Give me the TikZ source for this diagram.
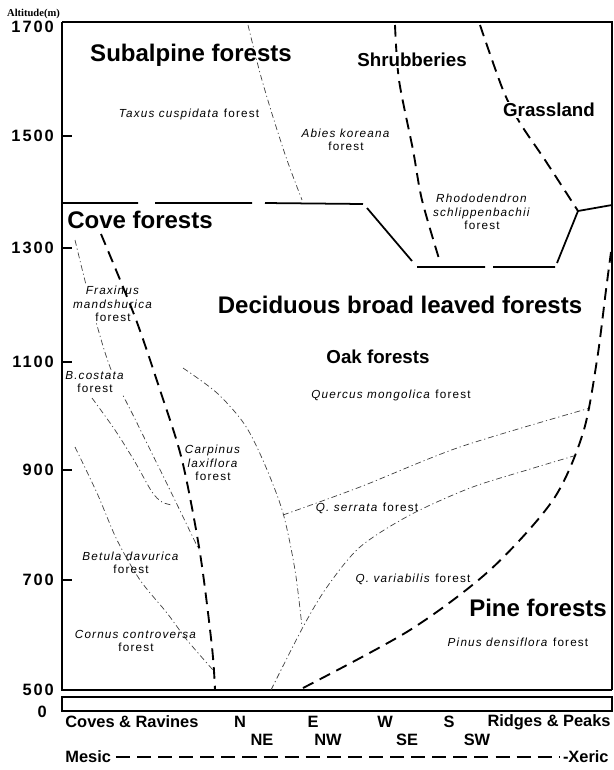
\documentclass[tikz,border=0pt]{standalone}
\usepackage{fontspec}
\setmainfont{Liberation Sans}
\newfontfamily\labfont[LetterSpace=10]{Liberation Sans}
\newfontfamily\tickfont[LetterSpace=12]{Liberation Sans}
\newfontfamily\altfont{Liberation Serif}
\usepackage{tikz}
\usetikzlibrary{arrows,shapes,positioning,calc}

\begin{document}
\begin{tikzpicture}[x=0.03cm,y=-0.03cm,
    zone/.style={font=\bfseries\fontsize{20.5}{24}\selectfont},
    subzone/.style={font=\bfseries\fontsize{16}{19}\selectfont},
    sp/.style={font=\labfont\fontsize{10}{11.5}\selectfont, align=center, inner sep=1pt},
    ticklab/.style={font=\tickfont\bfseries\fontsize{14}{16}\selectfont, anchor=east},
    aspect/.style={font=\bfseries\fontsize{14}{16}\selectfont, inner sep=1pt},
    bound/.style={line width=1.5pt},
    cutline/.style={line width=1.6pt, dash pattern=on 10pt off 6pt},
    minor/.style={line width=0.6pt, black!75, dash pattern=on 5pt off 2.5pt on 1pt off 2.5pt}]
  \useasboundingbox (0,0) rectangle (614,770);

  \draw[line width=1.2pt] (62,22) -- (612,22) -- (612,690);
  \draw[line width=2.5pt] (62,22) -- (62,690) -- (612,690);
  \draw[line width=2.2pt] (62,697) rectangle (612,711);
  \node[font=\altfont\bfseries\fontsize{9}{10}\selectfont, anchor=west] (alt) at (3,14) {Altitude(m)};
  \node[ticklab] (t1700) at (58,27) {1700};
  \foreach \y/\v in {136/1500, 248/1300, 362/1100, 470/900, 580/700} {
    \draw[line width=2.5pt] (62,\y) -- (72,\y);
    \node[ticklab] (t\v) at (58,\y) {\v};
  }
  \node[ticklab] (t500) at (58,690) {500};
  \node[ticklab] (t0) at (51,712) {0};

  \draw[bound] (62,203) -- (138,203) (155,203) -- (252,203) (265,203) -- (363,204)
    (367,208) -- (412,261) (417,267) -- (485,267) (493,267) -- (555,267)
    (557,263) -- (578,211) -- (612,205);

  \draw[minor] plot[smooth] coordinates {(248,25) (260,73) (273,117) (287,160) (302,200)};
  \draw[minor] plot[smooth] coordinates {(75,240) (90,300) (110,367) (137,423) (170,490) (199,550)};
  \draw[minor] plot[smooth] coordinates {(92,398) (115,430) (135,462) (152,492) (162,502) (172,505)};
  \draw[minor] plot[smooth] coordinates {(75,447) (97,493) (117,540) (140,580) (167,613) (187,640) (213,670)};
  \draw[minor] plot[smooth] coordinates {(183,368) (217,393) (245,425) (265,465) (283,513) (295,570) (302,627)};
  \draw[minor] plot[smooth] coordinates {(283,515) (360,487) (460,447) (590,408)};
  \draw[minor] plot[smooth] coordinates {(271,690) (303,627) (327,587) (360,547) (410,515) (470,488) (527,470) (577,455)};

  \node[sp, fill=white] (frax) at (113,304) {\textit{Fraxinus}\\\textit{mandshurica}\\forest};
  \node[sp, fill=white] (bcost) at (95,382) {\textit{B.costata}\\forest};

  \draw[cutline] plot[smooth] coordinates {(395,25) (399,80) (413,150) (422,200) (440,262)};
  \draw[cutline] plot[smooth] coordinates {(480,25) (503,90) (520,123) (545,160) (578,211)};
  \draw[cutline] plot[smooth] coordinates {(101,234) (135,317) (160,390) (182,460) (200,553) (212,647) (215,690)};
  \draw[cutline] plot[smooth] coordinates {(303,688) (410,630) (490,570) (553,500) (583,433) (597,360) (606,290) (611,252)};

  \node[zone] (subalp) at (191,55) {Subalpine forests};
  \node[subzone, fill=white, inner sep=1pt] (shrub) at (412,60) {Shrubberies};
  \node[subzone, fill=white, inner sep=1pt] (grass) at (549,110) {Grassland};
  \node[zone] (cove) at (140,220) {Cove forests};
  \node[zone] (decid) at (400,305) {Deciduous broad leaved forests};
  \node[subzone] (oak) at (378,357) {Oak forests};
  \node[zone] (pine) at (538,608) {Pine forests};

  \node[sp] (taxus) at (189,114) {\textit{Taxus cuspidata} forest};
  \node[sp] (abies) at (346,140) {\textit{Abies koreana}\\forest};
  \node[sp] (rhodo) at (482,212) {\textit{Rhododendron}\\\textit{schlippenbachii}\\forest};
  \node[sp] (carp) at (213,463) {\textit{Carpinus}\\\textit{laxiflora}\\forest};
  \node[sp] (betula) at (131,563) {\textit{Betula davurica}\\forest};
  \node[sp] (cornus) at (136,641) {\textit{Cornus controversa}\\forest};
  \node[sp] (querc) at (391,395) {\textit{Quercus mongolica} forest};
  \node[sp] (serr) at (367,508) {\textit{Q. serrata} forest};
  \node[sp] (varia) at (413,579) {\textit{Q. variabilis} forest};
  \node[sp] (pinus) at (518,642) {\textit{Pinus densiflora} forest};

  \node[aspect, anchor=west] (coves) at (64,722) {Coves \& Ravines};
  \node[aspect] (n) at (240,722) {N};
  \node[aspect] (ne) at (262,740) {NE};
  \node[aspect] (e) at (313,722) {E};
  \node[aspect] (nw) at (328,740) {NW};
  \node[aspect] (w) at (385,722) {W};
  \node[aspect] (se) at (407,740) {SE};
  \node[aspect] (s) at (449,722) {S};
  \node[aspect] (sw) at (477,740) {SW};
  \node[aspect, anchor=east] (ridges) at (612,722) {Ridges \& Peaks};
  \node[aspect, anchor=west] (mesic) at (64,757) {Mesic};
  \node[aspect, anchor=east] (xeric) at (610,757) {-Xeric};
  \draw[line width=2.5pt, dash pattern=on 12pt off 6pt] ([xshift=3pt]mesic.east) -- ([xshift=-1pt]xeric.west);
\end{tikzpicture}
\end{document}
